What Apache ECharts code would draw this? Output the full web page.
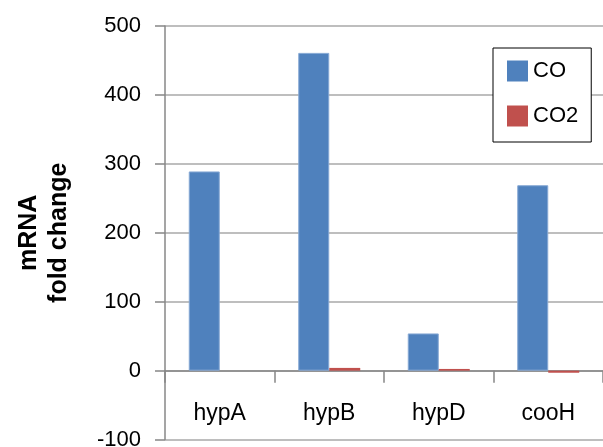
<!DOCTYPE html>
<html>
<head>
<meta charset="utf-8">
<script src="https://cdn.jsdelivr.net/npm/echarts@6/dist/echarts.min.js"></script>
<style>html,body{margin:0;padding:0;background:#fff;}#c{width:603px;height:447px;}</style>
</head>
<body>
<div id="c"></div>
<script>
var categories = ['hypA', 'hypB', 'hypD', 'cooH'];
var seriesNames = ['CO', 'CO2'];
var seriesColors = ['#4F81BD', '#C0504D'];
var coValues = [289, 461, 54, 269];
var co2Values = [0, 4, 2.5, -3];
var yMin = -100, yMax = 500, yStep = 100;

var FONT = '"Liberation Sans", Arial, sans-serif';
var chart = echarts.init(document.getElementById('c'), null, {renderer: 'canvas'});
chart.setOption({
  animation: false,
  backgroundColor: '#ffffff',
  textStyle: {fontFamily: FONT},
  grid: {left: 165, right: 0, top: 26, bottom: 7.4, containLabel: false, outerBoundsMode: 'none'},
  legend: {
    orient: 'vertical',
    left: 493, top: 48,
    padding: [12, 13, 15, 14],
    backgroundColor: '#ffffff',
    borderColor: '#000000', borderWidth: 1,
    itemWidth: 21, itemHeight: 21, itemGap: 23, itemTextGap: 7,
    textStyle: {fontFamily: FONT, fontSize: 22, color: '#000'},
    data: seriesNames.map(function (n, i) {
      return {name: n, icon: 'rect', itemStyle: {color: seriesColors[i], borderWidth: 0}};
    })
  },
  xAxis: {
    type: 'category',
    data: categories,
    axisLine: {onZero: true, lineStyle: {color: '#878787', width: 1.5}},
    axisTick: {show: true, length: 12, interval: 0, lineStyle: {color: '#878787', width: 1.5}},
    axisLabel: {margin: -37, fontSize: 23, color: '#000', fontFamily: FONT, interval: 0},
    splitLine: {show: false}
  },
  yAxis: {
    type: 'value',
    min: yMin, max: yMax, interval: yStep,
    name: 'mRNA\nfold change',
    nameLocation: 'middle',
    nameRotate: 90,
    nameGap: 91,
    nameTextStyle: {fontFamily: FONT, fontSize: 25, fontWeight: 'bold', color: '#000', lineHeight: 30, align: 'center'},
    axisLine: {show: true, lineStyle: {color: '#878787', width: 1.5}},
    axisTick: {show: true, length: 10, lineStyle: {color: '#878787', width: 1.5}},
    axisLabel: {margin: 24, fontSize: 22, color: '#000', fontFamily: FONT},
    splitLine: {show: true, lineStyle: {color: '#a8a8a8', width: 1.5}}
  },
  series: [
    {name: seriesNames[0], type: 'bar', data: coValues, barWidth: 31, barGap: '0%',
     itemStyle: {color: seriesColors[0], borderColor: '#86a8d4', borderWidth: 1}},
    {name: seriesNames[1], type: 'bar', data: co2Values, barWidth: 31, barGap: '0%',
     itemStyle: {color: seriesColors[1], borderWidth: 0}}
  ]
});
</script>
</body>
</html>
